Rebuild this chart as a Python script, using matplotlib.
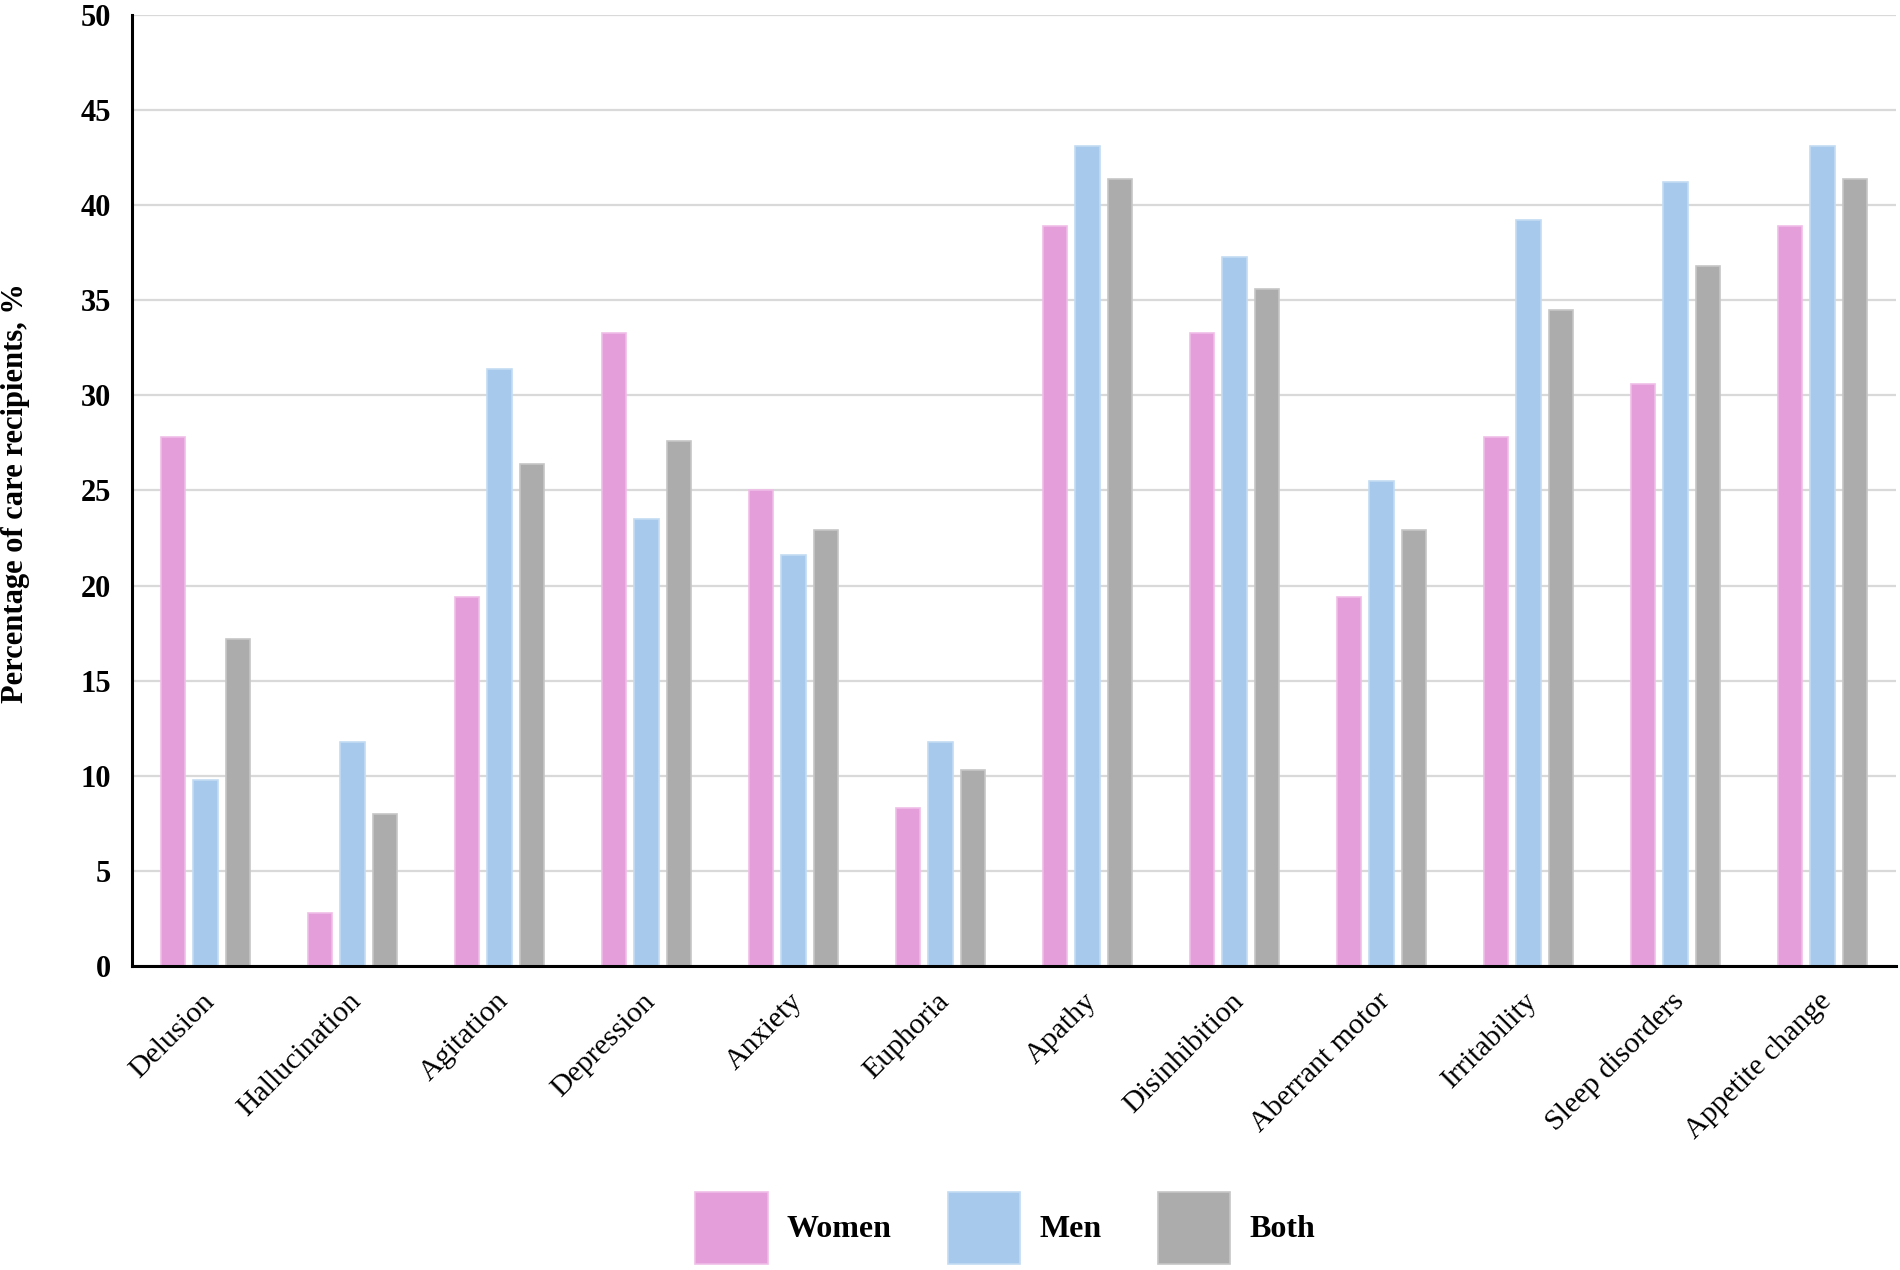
import numpy as np
import matplotlib.pyplot as plt

categories = ["Delusion", "Hallucination", "Agitation", "Depression", "Anxiety",
              "Euphoria", "Apathy", "Disinhibition", "Aberrant motor",
              "Irritability", "Sleep disorders", "Appetite change"]
women = [27.8, 2.8, 19.4, 33.3, 25.0, 8.3, 38.9, 33.3, 19.4, 27.8, 30.6, 38.9]
men = [9.8, 11.8, 31.4, 23.5, 21.6, 11.8, 43.1, 37.3, 25.5, 39.2, 41.2, 43.1]
both = [17.2, 8.0, 26.4, 27.6, 22.9, 10.3, 41.4, 35.6, 22.9, 34.5, 36.8, 41.4]
series_names = ["Women", "Men", "Both"]
colors = ["#E49EDA", "#A7C9EB", "#ACACAC"]
edges = ["#F0BDE8", "#C4DCF3", "#C6C6C6"]

plt.rcParams['font.family'] = ['Liberation Serif', 'DejaVu Serif']

fig = plt.figure(figsize=(19, 12.7), dpi=100)
ax = fig.add_axes([0.0695, 0.2394, 0.9284, 0.7488])

x = np.arange(len(categories))
width = 0.165
step = 0.222
for i, (vals, name) in enumerate(zip([women, men, both], series_names)):
    ax.bar(x + (i - 1) * step, vals, width, color=colors[i], edgecolor=edges[i],
           linewidth=1.2, label=name, zorder=3)

ax.set_xlim(-0.5, len(categories) - 0.5)
ax.set_ylim(0, 50)
ax.yaxis.grid(True, color="#D9D9D9", linewidth=1.6, zorder=0)
ax.set_axisbelow(True)

for s in ["top", "right"]:
    ax.spines[s].set_visible(False)
for s in ["left", "bottom"]:
    ax.spines[s].set_linewidth(2.2)
    ax.spines[s].set_color("black")
ax.spines["bottom"].set_zorder(4)

ax.tick_params(axis="both", length=0)
ax.tick_params(axis="y", pad=15)
ax.tick_params(axis="x", pad=16)
ax.set_yticks(np.arange(0, 51, 5))
ax.set_yticklabels([str(v) for v in range(0, 51, 5)], fontsize=22, fontweight="bold")
ax.set_xticks(x - 0.03)
ax.set_xticklabels(categories, rotation=45, ha="right", rotation_mode="anchor",
                   fontsize=21.5)

fig.text(0.008, 0.612, "Percentage of care recipients, %", rotation=90,
         ha="center", va="center", fontsize=22, fontweight="bold")

handles, labels = ax.get_legend_handles_labels()
leg = fig.legend(handles, labels, loc="center", bbox_to_anchor=(0.529, 0.033),
                 ncol=3, frameon=False, prop={"weight": "bold", "size": 23},
                 handlelength=2.28, handleheight=3.13, handletextpad=0.6,
                 columnspacing=1.75)

fig.savefig("out.png", dpi=100)
